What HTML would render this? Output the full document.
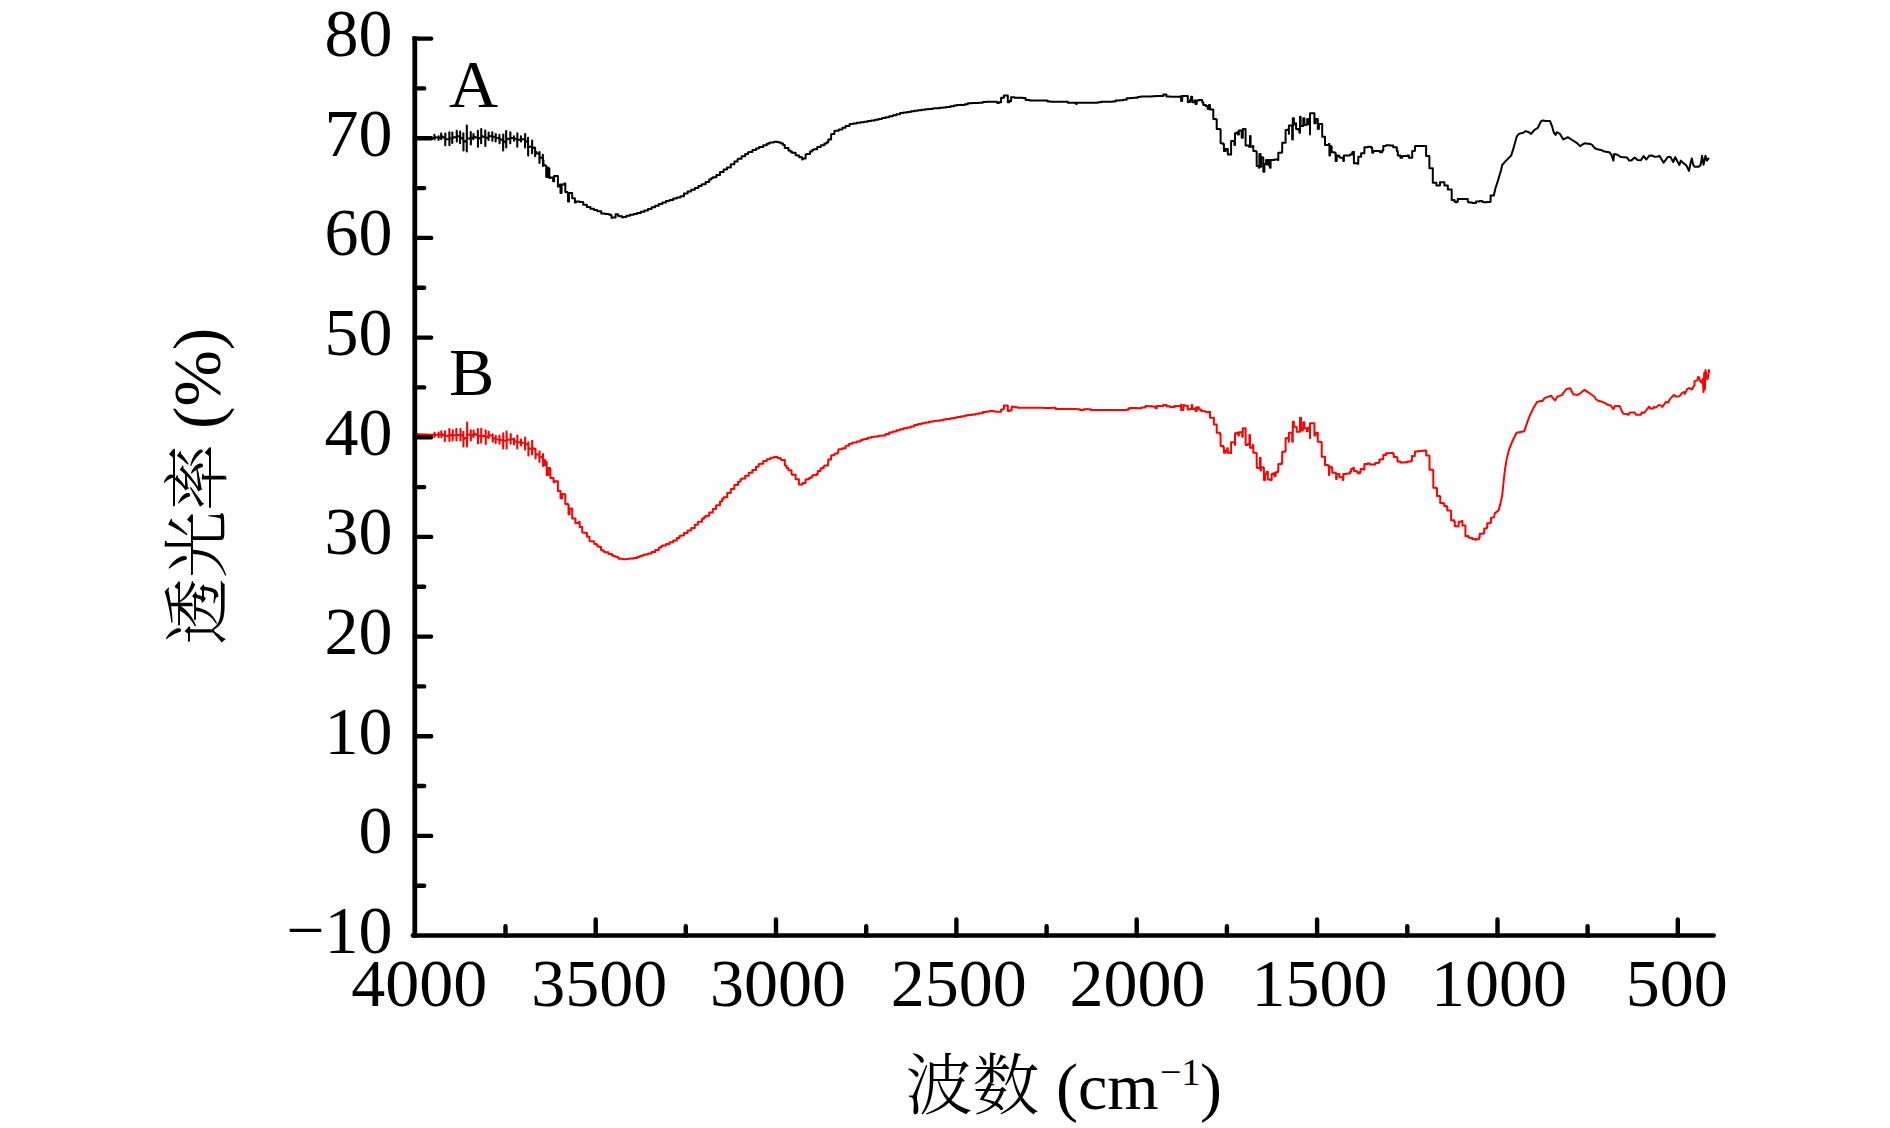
<!DOCTYPE html><html><head><meta charset="utf-8"><style>
html,body{margin:0;padding:0;background:#fff;}body{width:1890px;height:1128px;overflow:hidden;}
svg{display:block;}
.t{font-family:"Liberation Serif","Times New Roman",serif;font-size:68px;fill:#000;}
.c{font-family:"Liberation Serif","Noto Serif CJK SC",serif;font-size:68px;font-weight:300;fill:#000;}
</style></head><body>
<svg width="1890" height="1128" viewBox="0 0 1890 1128">
<rect width="1890" height="1128" fill="#fff"/>
<path d="M416.5 434.3H417.6V434.3H421.2V434.4H424.8V434.5H428.4V434.7H432.0V434.8H434.4V434.9H434.4V432.8H434.5V436.9H434.6V434.9H435.6V434.8H438.5V434.8H438.5V437.2H438.6V432.4H438.7V434.8H439.2V434.7H441.3V434.2H441.3V431.3H441.4V437.2H441.5V434.2H442.8V435.0H444.8V436.1H444.8V440.9H444.9V431.3H445.0V436.1H446.4V435.7H449.3V435.0H449.3V429.1H449.4V440.9H449.5V435.0H450.0V435.1H452.6V435.4H452.6V440.6H452.7V430.2H452.8V435.4H453.6V435.3H456.3V434.9H456.3V429.1H456.4V440.6H456.5V434.9H457.2V434.9H460.4V434.9H460.4V440.6H460.5V429.1H460.6V434.9H460.8V435.2H463.3V439.1H463.3V431.7H463.4V446.5H463.5V439.1H464.4V437.9H467.0V434.4H467.0V446.5H467.1V422.4H467.2V434.4H468.0V434.7H470.7V435.4H470.7V430.2H470.8V440.6H470.9V435.4H471.6V435.0H473.5V433.9H473.5V437.2H473.6V430.6H473.7V433.9H475.2V434.8H477.8V436.3H477.8V429.1H477.9V443.5H478.0V436.3H478.8V436.1H481.1V435.5H481.1V442.4H481.2V428.7H481.3V435.5H482.4V435.9H485.6V437.0H485.6V430.2H485.7V443.9H485.8V437.0H486.0V436.9H488.5V434.9H488.5V438.0H488.6V431.7H488.7V434.9H489.6V435.6H492.6V438.0H492.6V434.3H492.7V441.7H492.8V438.0H493.2V438.2H495.6V439.4H495.6V443.1H495.7V435.7H495.8V439.4H496.8V439.5H499.4V439.6H499.4V435.6H499.5V443.7H499.6V439.6H500.4V439.9H503.1V440.9H503.1V448.5H503.2V433.3H503.3V440.9H504.0V440.7H506.5V440.0H506.5V431.5H506.6V448.5H506.7V440.0H507.6V439.7H510.6V438.9H510.6V443.7H510.7V434.1H510.8V438.9H511.2V439.2H513.9V441.4H513.9V438.5H514.0V444.4H514.1V441.4H514.8V441.6H517.2V442.1H517.2V448.5H517.3V435.6H517.4V442.1H518.4V442.2H520.9V442.6H520.9V439.6H521.0V445.6H521.1V442.6H522.0V442.8H525.0V443.5H525.0V449.6H525.1V437.4H525.2V443.5H525.6V444.2H528.3V448.9H528.3V442.2H528.4V455.6H528.5V448.9H529.2V448.6H532.0V447.5H532.0V454.4H532.1V440.7H532.2V447.5H532.8V448.8H535.4V454.1H535.4V449.6H535.5V458.5H535.6V454.1H536.4V454.6H539.4V456.8H539.4V462.0H539.5V451.5H539.6V456.8H540.0V457.1H543.0V460.0H543.0V454.0H543.1V466.0H543.2V460.0H545.1V465.3H546.2V462.1H546.7V474.9H548.3V468.0H549.9V468.5H550.4V478.1H550.8V478.1H553.1V478.1H553.6V482.3H554.7V481.3H557.3V481.3H557.9V490.9H558.0V490.9H560.0V490.9H560.5V498.3H562.1V494.0H564.8V494.6H565.3V504.1H568.0V504.7H568.5V514.3H569.6V508.4H571.7V508.4H572.2V518.5H572.4V518.5H574.9V518.5H575.4V523.3H576.0V523.1H579.1V521.7H579.7V527.0H582.2V528.2H582.2V532.5H583.2V532.7H585.8V533.1H587.0V536.8H589.5V537.4H589.5V541.0H590.4V541.2H593.1V541.6H594.3V544.1H596.8V544.7H597.4V546.5H597.6V546.5H599.8V547.1H601.0V550.1H601.2V550.2H603.5V551.4H604.8V552.2H608.4V554.1H612.0V555.6H613.8V556.2H615.6V556.8H617.5V557.4H618.7V558.7H619.2V558.7H622.8V559.2H626.4V558.9H628.4V558.7H630.0V558.5H633.6V558.1H637.2V557.0H639.4V556.2H640.8V555.7H643.0V555.0H644.4V554.6H648.0V553.5H651.6V551.9H655.2V550.1H655.2V550.1H658.8V547.6H661.3V545.9H662.4V545.4H666.0V544.0H669.6V542.3H673.2V540.5H676.8V538.1H679.5V536.1H680.4V535.5H684.0V533.0H687.6V530.5H691.2V528.0H694.8V524.8H697.8V522.1H698.4V521.7H702.0V518.8H703.9V517.3H705.6V515.7H709.2V512.5H712.8V509.0H716.0V505.7H716.4V505.3H720.0V501.4H722.1V499.0H723.6V497.3H727.2V492.9H730.8V488.9H734.3V485.0H734.4V484.9H738.0V481.7H740.4V479.6H741.6V478.6H745.2V475.7H748.8V472.8H752.4V469.9H756.0V466.7H758.6V464.3H759.6V463.7H763.2V461.1H766.8V459.2H770.4V457.8H774.0V457.1H777.6V458.0H780.5V458.9H781.2V460.0H784.8V465.6H786.6V468.0H788.4V470.2H791.5V474.1H792.0V474.7H795.6V479.2H798.9V484.4H799.2V484.4H802.2V483.9H802.8V483.1H805.6V479.4H806.4V479.2H808.9V478.3H810.0V477.4H812.2V475.6H813.6V475.0H816.7V473.9H817.8V471.1H820.6V468.3H820.8V468.2H823.3V466.7H824.4V465.6H828.0V462.5H828.3V459.4H831.1V455.6H831.6V455.3H834.4V453.9H835.2V453.5H837.8V452.2H838.3V449.4H838.8V449.3H842.2V448.3H842.4V448.2H845.6V446.1H846.0V445.8H848.9V443.9H849.6V443.7H852.2V442.8H853.2V442.5H856.7V441.7H856.8V441.6H860.4V440.2H862.2V439.4H864.0V438.9H867.6V437.8H871.2V437.1H873.3V436.7H874.8V436.4H878.4V435.7H882.0V435.6H884.4V435.6H885.6V433.9H885.6V433.9H889.2V432.5H892.8V431.4H896.4V430.3H900.0V429.2H903.6V428.3H907.2V427.4H910.8V426.5H914.4V425.0H918.0V424.1H921.6V423.2H925.2V422.4H928.8V421.7H932.4V421.3H934.4V421.1H936.0V420.8H939.6V420.2H943.2V419.5H945.6V419.1H946.8V418.9H950.4V418.3H954.0V417.7H956.7V417.2H957.6V417.0H961.2V416.3H964.8V415.6H967.8V415.0H968.4V414.9H972.0V414.4H975.6V413.8H978.9V413.3H979.2V413.2H982.8V411.9H986.4V411.4H990.0V411.1H993.6V411.5H995.6V411.7H997.2V411.7H1000.6V411.7H1001.1V409.4H1003.3V408.9H1003.9V405.6H1004.4V405.6H1007.8V405.6H1007.8V411.1H1009.4V410.6H1011.1V410.0H1011.7V406.7H1014.4V407.2H1015.2V407.3H1017.8V407.8H1018.8V407.8H1022.4V407.8H1026.0V407.8H1029.6V407.8H1033.2V407.8H1036.8V407.8H1040.4V407.8H1043.3V407.8H1044.0V408.1H1047.6V407.9H1051.2V407.8H1054.4V407.8H1055.6V408.9H1058.4V408.9H1062.0V408.9H1065.6V408.9H1069.2V408.9H1072.8V408.9H1075.6V408.9H1076.4V409.3H1080.0V410.0H1082.2V410.0H1083.6V409.3H1086.7V408.9H1087.2V409.2H1090.8V410.0H1094.4V410.0H1098.0V410.0H1101.6V410.0H1105.2V410.0H1108.8V410.0H1112.4V410.0H1116.0V410.0H1119.6V410.0H1123.2V410.0H1125.6V410.0H1126.8V409.4H1128.9V408.3H1130.4V408.1H1133.3V407.8H1134.0V408.1H1137.6V408.2H1141.2V407.5H1144.4V407.2H1145.6V406.1H1148.4V406.3H1152.0V406.5H1154.4V406.7H1155.6V408.3H1156.7V406.1H1159.2V406.1H1162.2V406.1H1163.3V405.0H1166.4V406.2H1170.0V406.9H1173.3V407.2H1174.4V406.1H1177.2V406.1H1180.0V406.1H1181.1V404.4H1181.1V410.0H1183.3V405.0H1184.4V405.8H1187.8V409.4H1188.0V409.4H1190.0V408.9H1191.7V405.0H1192.2V408.9H1194.4V408.3H1195.6V411.1H1196.7V407.2H1198.8V409.4H1201.1V411.1H1202.4V411.3H1205.6V411.7H1206.0V412.1H1208.9V411.7H1210.0V417.8H1213.2V417.8H1213.9V424.4H1216.1V424.4H1216.7V432.8H1216.8V432.8H1220.0V434.4H1220.6V446.1H1223.3V447.2H1223.9V452.8H1225.6V450.6H1227.2V448.3H1227.8V452.8H1231.1V453.3H1231.1V442.2H1231.2V442.2H1233.9V442.2H1235.0V445.0H1235.0V433.3H1236.7V432.8H1238.3V435.6H1238.9V432.2H1241.7V431.7H1242.2V436.7H1242.8V428.3H1245.0V428.3H1245.6V445.0H1245.6V445.0H1247.8V443.9H1249.4V435.0H1250.0V447.8H1252.8V445.0H1253.3V452.8H1256.1V453.3H1256.7V467.8H1258.9V468.3H1260.0V457.8H1260.6V470.6H1261.1V467.2H1263.3V467.8H1263.9V480.0H1265.0V473.9H1266.7V471.7H1267.8V479.4H1270.6V480.0H1271.7V473.9H1273.3V473.3H1274.4V476.1H1275.6V472.2H1277.8V471.1H1278.3V463.9H1281.6V462.8H1282.2V451.7H1285.0V451.1H1285.6V438.3H1287.8V437.8H1288.9V441.7H1288.9V432.8H1291.1V432.8H1292.2V441.7H1292.8V421.7H1293.9V426.7H1296.0V427.2H1296.7V431.7H1299.4V431.7H1300.0V417.8H1301.1V430.6H1302.8V428.3H1303.3V422.2H1304.4V428.3H1306.8V431.2H1307.8V427.8H1309.4V427.2H1310.0V438.3H1310.0V423.3H1310.4V423.3H1313.9V423.3H1314.4V435.6H1315.6V432.8H1317.2V432.8H1317.8V441.7H1321.1V442.2H1321.7V456.7H1324.4V456.7H1325.0V465.0H1327.8V465.6H1328.9V475.0H1329.4V466.7H1331.7V468.3H1332.2V472.8H1335.6V473.3H1336.1V478.9H1336.7V473.9H1338.9V473.9H1339.4V477.2H1342.2V477.2H1342.8V480.0H1343.3V473.9H1346.4V473.5H1350.0V471.7H1351.1V468.9H1353.3V467.8H1353.9V471.1H1356.7V471.7H1357.8V473.3H1360.0V471.7H1360.6V468.9H1360.8V468.9H1363.3V469.4H1364.4V463.9H1367.8V463.3H1368.0V463.4H1370.0V464.4H1371.6V464.4H1375.2V463.0H1378.8V462.2H1379.4V459.4H1382.2V458.9H1383.3V455.0H1386.0V453.2H1389.6V453.0H1393.0V453.9H1393.8V456.9H1396.8V457.6H1397.5V461.4H1400.4V462.6H1404.0V462.3H1407.6V461.5H1411.1V460.7H1411.9V456.1H1414.8V455.4H1414.9V451.6H1418.4V451.1H1422.0V450.8H1425.4V450.6H1426.2V455.4H1429.2V456.1H1429.5V469.7H1432.8V470.4H1433.3V487.8H1436.4V488.5H1437.0V496.1H1439.8V496.4H1440.2V502.9H1442.8V503.6H1444.3V505.9H1446.5V506.6H1447.3V510.4H1450.8V511.1H1451.1V520.2H1454.1V521.7H1454.8V526.2H1458.0V526.2H1458.6V521.7H1461.6V521.0H1462.4V525.5H1465.2V525.5H1465.4V536.0H1468.4V537.5H1468.8V537.7H1472.2V539.1H1472.4V539.1H1475.2V539.8H1476.0V539.3H1478.9V537.5H1479.7V533.8H1483.2V533.1H1484.2V528.5H1486.5V527.7H1487.2V523.2H1490.3V522.5H1491.0V517.9L1494.0 517.2L1494.8 513.4L1498.5 510.4L1500.1 505.1L1502.3 494.6L1503.8 479.5L1505.3 467.4L1506.8 458.4L1509.1 449.4L1512.1 441.8L1516.6 432.8L1520.4 432.0L1524.2 431.3L1527.9 420.7L1530.2 414.7L1533.2 408.6L1537.0 401.9L1540.8 401.1L1542.3 401.1L1544.5 398.1L1548.3 396.6L1551.3 395.8L1552.8 398.1L1555.1 400.4L1557.3 396.6L1561.9 395.1L1563.4 392.8L1566.4 389.0L1570.2 388.3L1573.2 394.3L1576.9 395.1L1580.0 393.6L1584.5 389.8L1589.0 392.8L1595.0 397.3L1595.5 399.0L1598.9 401.1L1602.4 401.8L1605.1 403.1L1607.9 404.9L1610.6 405.2L1613.4 409.3L1614.8 405.9L1619.6 405.9L1622.3 412.1L1623.7 413.8L1627.1 414.1L1628.5 414.8L1629.9 412.4L1634.7 412.4L1636.1 414.8L1640.9 414.8L1641.6 412.4L1644.3 412.8L1646.4 410.0L1649.1 406.6L1650.5 408.6L1653.3 408.6L1654.0 406.9L1656.0 407.6L1658.8 404.9L1661.5 405.6L1662.2 406.9L1663.6 405.2L1665.7 402.1L1668.4 402.5L1669.1 400.4L1671.8 397.0L1673.9 394.9L1676.0 396.6L1679.4 396.3L1682.2 392.8L1684.2 392.1L1684.9 393.9L1687.0 389.4L1689.0 388.0L1691.8 389.4L1693.2 387.0L1694.5 385.3L1694.5 381.1L1697.3 380.4L1698.0 377.0L1699.4 377.7L1700.0 381.1L1701.4 382.5L1702.8 379.1L1703.5 392.1L1704.2 372.9L1704.9 389.4L1705.5 370.1L1706.9 378.4L1707.6 379.1L1709.0 370.1L1709.3 372.9" fill="none" stroke="#ff0000" stroke-width="2" stroke-linejoin="round"/>
<path d="M416.5 137.6H417.6V137.6H421.2V137.7H424.8V137.8H428.4V138.0H432.0V138.1H434.4V137.2H434.4V134.8H434.5V139.6H434.6V137.2H435.6V137.4H438.5V138.2H438.5V140.0H438.6V136.3H438.7V138.2H439.2V137.8H441.1V136.4H441.1V133.5H441.2V139.3H441.3V136.4H442.8V137.5H445.2V139.3H445.2V145.2H445.3V133.5H445.4V139.3H446.4V139.2H449.3V138.7H449.3V132.2H449.4V145.2H449.5V138.7H450.0V138.5H452.2V137.8H452.2V143.0H452.3V132.5H452.4V137.8H453.6V137.3H456.7V136.1H456.7V130.7H456.8V141.5H456.9V136.1H457.2V136.2H460.0V137.4H460.0V143.3H460.1V131.5H460.2V137.4H460.8V138.3H463.3V141.9H463.3V133.3H463.4V150.4H463.5V141.9H464.4V140.9H466.7V138.6H466.7V151.5H466.8V125.6H466.9V138.6H468.0V138.4H470.7V138.2H470.7V131.9H470.8V144.4H470.9V138.2H471.6V137.7H473.3V139.3H473.4V134.1H473.5V136.7H475.2V137.5H477.8V138.7H477.8V130.7H477.9V146.7H478.0V138.7H478.8V138.0H481.1V136.1H481.1V143.3H481.2V128.9H481.3V136.1H482.4V136.7H485.2V138.2H485.2V130.4H485.3V145.9H485.4V138.2H486.0V137.8H488.5V136.3H488.5V140.0H488.6V132.6H488.7V136.3H489.6V136.3H492.2V136.4H492.2V132.2H492.3V140.7H492.4V136.4H493.2V136.8H495.6V137.8H495.6V141.5H495.7V134.1H495.8V137.8H496.8V138.1H499.4V139.1H499.4V134.8H499.5V143.3H499.6V139.1H500.4V139.8H503.1V142.4H503.1V150.4H503.2V134.4H503.3V142.4H504.0V141.6H506.1V139.2H506.1V131.1H506.2V147.4H506.3V139.2H507.6V138.8H510.2V137.8H510.2V143.3H510.3V132.2H510.4V137.8H511.2V137.9H513.9V138.5H513.9V136.3H514.0V140.7H514.1V138.5H514.8V138.8H517.2V140.0H517.2V146.7H517.3V133.3H517.4V140.0H518.4V139.7H520.9V138.9H520.9V136.3H521.0V141.5H521.1V138.9H522.0V139.3H525.0V140.8H525.0V147.4H525.1V134.1H525.2V140.8H525.6V141.6H528.0V146.7H528.0V137.8H528.1V155.6H528.2V146.7H529.2V146.7H532.0V146.9H532.0V153.3H532.1V140.4H532.2V146.9H532.8V147.9H535.0V151.9H535.0V147.4H535.1V156.3H535.2V151.9H536.4V153.4H539.4V157.4H539.4V163.0H539.5V151.9H539.6V157.4H540.0V157.8H542.8V160.4H542.8V154.8H542.9V166.0H543.0V160.4H543.5V165.3H543.6V165.3H545.6V165.9H546.2V177.0H547.8V167.4H548.3V168.5H549.4V178.1H550.8V177.4H553.1V181.3H554.1V176.0H554.4V176.0H557.3V176.0H557.9V186.6H558.0V186.5H560.0V184.5H560.5V193.0H561.6V184.5H561.6V184.5H564.3V183.4H565.3V191.9H567.4V193.0H568.0V201.5H569.0V193.0H571.7V193.0H572.2V198.3H572.4V198.3H574.4V198.3H574.9V202.6H576.0V201.4H579.6V202.1H583.2V204.8H586.8V206.9H590.4V208.7H594.0V210.0H597.2V211.1H597.6V211.3H601.2V213.5H604.8V214.1H608.4V214.6H610.6V215.2H611.6V217.9H612.0V217.4H615.6V214.3H618.0V215.8H619.2V216.2H622.2V217.4H622.8V217.1H626.4V215.7H630.0V214.7H633.6V213.9H637.0V213.1H637.2V213.1H640.8V211.8H644.4V210.5H648.0V208.9H651.6V207.3H655.2V205.7H658.8V204.1H662.4V202.5H666.0V201.1H669.6V199.9H673.2V198.6H676.8V197.4H680.4V196.2H684.0V193.5H687.6V191.5H691.2V189.7H694.8V187.9H698.4V186.1H701.6V184.6H702.0V184.3H705.6V182.0H709.2V179.5H711.1V178.2H712.8V177.2H716.4V175.0H720.0V172.1H723.6V169.6H727.0V167.6H727.2V167.4H730.8V164.2H734.4V161.4H737.6V159.2H738.0V158.8H741.6V156.3H745.2V154.0H748.1V152.3H748.8V151.9H752.4V150.1H756.0V148.6H758.7V147.5H759.6V147.1H763.2V145.3H766.8V143.8H769.3V142.8H770.4V142.5H774.0V141.8H777.6V142.3H779.9V142.8H781.2V143.6H783.1V144.9H784.8V147.9H788.4V150.5H790.5V151.7H792.0V152.8H795.6V155.3H796.7V155.6H799.2V157.3H802.2V159.4H802.8V158.6H805.6V154.4H806.4V153.9H810.0V151.5H812.2V150.0H813.6V149.2H817.2V147.1H820.8V145.2H824.4V143.4H826.7V142.2H828.3V139.4H831.1V134.4H831.6V134.0H834.4V131.1H835.2V130.8H838.8V129.4H842.4V127.7H845.6V126.1H846.0V125.9H849.6V124.1H853.2V123.4H856.7V122.8H856.8V122.8H860.4V122.2H864.0V121.7H867.6V121.1H871.2V120.4H874.8V119.7H878.4V119.0H882.0V118.1H885.6V117.2H889.2V116.3H892.8V115.3H896.4V114.2H900.0V113.1H903.6V112.4H907.2V111.9H910.8V111.3H914.4V110.8H918.0V110.2H921.6V109.7H925.2V109.3H928.8V108.9H932.4V108.5H934.4V108.3H936.0V108.2H939.6V107.8H943.2V107.5H945.6V107.2H946.8V107.0H950.4V106.3H954.0V105.5H956.7V105.0H957.6V105.0H961.2V105.0H964.8V104.2H967.8V103.3H968.4V103.3H972.0V103.1H975.6V102.9H978.9V102.8H979.2V102.7H982.8V102.0H986.4V101.7H990.0V101.7H993.6V101.7H995.6V101.7H997.2V102.9H998.9V102.2H1000.6V102.2H1001.1V97.8H1003.3V97.8H1003.9V95.6H1004.4V95.6H1007.8V95.6H1007.8V102.2H1009.4V101.1H1011.1V97.2H1011.6V97.3H1014.4V97.8H1015.2V97.8H1018.8V97.8H1022.2V97.8H1022.4V97.9H1025.6V100.0H1026.0V100.1H1029.6V100.5H1033.2V100.6H1036.8V100.6H1040.4V100.6H1044.0V100.6H1047.6V101.6H1051.2V101.7H1054.8V101.7H1058.4V101.7H1062.0V101.7H1065.6V101.7H1065.6V101.7H1067.8V102.8H1069.2V102.8H1072.8V102.8H1075.6V102.8H1076.1V103.9H1076.7V102.8H1080.0V102.8H1083.6V102.8H1087.2V102.8H1090.8V102.8H1094.4V102.8H1098.0V102.3H1101.1V101.7H1101.6V101.7H1105.2V101.7H1108.8V101.7H1112.2V101.7H1112.4V101.6H1115.6V100.6H1116.0V100.5H1119.6V100.2H1123.2V99.8H1126.7V98.3H1126.8V98.3H1130.4V98.1H1134.0V97.8H1137.6V97.1H1140.0V96.7H1141.2V96.6H1144.8V96.5H1148.4V96.4H1152.0V96.3H1155.6V96.1H1159.2V96.1H1162.2V96.1H1163.3V94.4H1166.4V96.5H1170.0V96.7H1173.6V96.7H1177.2V96.7H1180.8V96.2H1181.1V101.1H1182.2V96.1H1184.4V96.1H1187.8V98.9H1187.8V102.2H1188.0V102.0H1190.0V100.0H1191.1V96.7H1192.2V102.2H1194.4V100.6H1195.6V103.9H1196.7V100.6H1198.8V100.0H1202.2V102.2H1203.3V105.0H1206.0V106.3H1207.8V108.9H1208.9V105.0H1210.0V109.4H1212.8V109.4H1213.3V118.9H1216.1V119.4H1216.7V128.9H1216.8V128.9H1220.0V129.4H1220.6V143.3H1222.8V143.9H1223.9V151.1H1225.6V148.9H1227.2V148.9H1227.8V154.4H1231.2V154.4H1231.1V141.1H1231.2V141.1H1233.3V141.1H1234.4V145.0H1235.0V133.3H1237.2V132.2H1237.8V134.4H1238.9V130.6H1241.1V131.1H1241.7V137.8H1242.8V128.9H1245.0V128.9H1245.6V145.6H1245.6V145.6H1247.8V145.6H1248.9V146.7H1250.0V136.1H1250.6V146.7H1252.8V146.1H1253.3V151.1H1256.1V151.7H1256.7V166.1H1258.9V167.8H1259.4V153.9H1260.6V166.7H1261.1V157.2H1262.8V157.8H1263.3V171.7H1264.4V163.9H1266.1V160.0H1266.7V164.4H1267.8V160.0H1268.9V165.6H1270.0V167.8H1270.6V160.0H1270.8V160.0H1274.4V159.5H1277.8V160.0H1278.3V152.8H1281.6V152.2H1282.2V142.8H1285.0V142.8H1285.6V130.0H1287.8V129.4H1288.9V133.9H1288.9V125.6H1291.7V125.6H1292.2V139.4H1292.8V118.3H1293.9V124.4H1295.6V123.3H1296.1V128.9H1297.8V128.9H1298.3V130.0H1299.4V132.8H1300.0V116.7H1300.6V126.1H1302.2V126.1H1303.3V118.3H1304.4V125.0H1306.1V124.4H1307.2V118.9H1308.3V118.9H1308.9V124.4H1310.0V134.4H1310.0V113.3H1310.4V113.3H1313.9V113.3H1314.4V123.3H1315.6V118.9H1317.2V118.9H1317.8V128.9H1318.9V123.9H1321.2V123.9H1322.2V136.7H1324.4V136.7H1325.0V145.0H1327.8V145.0H1328.9V143.9H1329.4V155.6H1330.0V146.1H1331.1V146.7H1331.7V152.2H1332.0V152.3H1334.4V152.8H1335.6V161.1H1336.7V155.6H1338.9V156.7H1340.0V157.8H1342.2V157.8H1343.3V161.1H1343.9V155.6H1346.4V155.6H1350.0V154.4H1352.2V152.2H1353.3V151.7H1353.9V163.3H1357.2V163.8H1358.3V156.7H1360.0V156.7H1361.1V153.3H1363.9V153.3H1364.4V147.2H1368.0V146.8H1371.1V147.8H1372.2V152.8H1373.3V151.1H1375.2V151.1H1378.8V151.1H1380.0V152.2H1382.2V150.6H1383.3V146.1H1386.0V145.2H1389.6V145.5H1393.2V147.2H1396.8V151.1H1397.8V155.6H1400.4V157.7H1402.2V156.1H1404.0V155.9H1407.6V155.6H1408.9V157.8H1411.2V157.8H1412.2V151.1H1414.8V150.6H1415.0V146.1H1418.4V146.1H1422.0V146.1H1425.6V146.1H1426.1V156.1H1429.2V156.6H1429.4V168.3H1432.2V168.3H1432.8V182.8H1432.8V182.8H1436.4V185.4H1440.0V182.2H1443.6V182.2H1444.4V185.6H1447.2V185.6H1447.8V189.4H1450.8V189.4H1451.7V200.0H1454.4V201.6H1455.6V202.2H1456.7V201.7H1457.8V198.9H1458.0V198.9H1461.6V198.9H1465.2V198.9H1467.8V201.7H1468.8V202.4H1472.4V202.9H1476.0V201.4H1479.6V201.0H1482.2V201.7H1483.2V202.2H1486.8V202.0H1490.4V201.7H1490.6V195.6H1493.9V195.0L1495.6 187.8L1497.8 181.1L1501.1 170.0L1502.2 165.0L1505.6 161.1L1511.1 155.6L1513.3 148.9L1516.7 136.7L1518.9 133.9L1523.3 132.8L1525.6 131.1L1528.9 132.2L1531.1 133.9L1534.4 130.0L1537.8 127.8L1541.1 121.1L1543.3 120.6L1545.6 121.1L1550.0 121.1L1552.2 126.7L1553.9 132.8L1555.6 135.0L1556.7 132.2L1560.0 133.9L1563.3 139.4L1566.7 137.8L1567.8 137.2L1572.2 140.0L1576.7 142.8L1580.0 146.1L1584.4 143.3L1590.0 143.9L1592.1 144.8L1594.8 148.2L1598.3 149.6L1601.0 149.9L1604.4 151.6L1609.3 152.3L1611.3 154.4L1613.4 160.6L1614.1 154.0L1617.5 154.7L1620.9 157.1L1627.1 157.5L1629.2 160.6L1631.3 160.6L1634.7 157.5L1637.5 159.9L1640.9 160.2L1643.6 156.1L1646.4 159.5L1649.1 155.8L1651.9 155.4L1654.6 156.8L1658.1 156.5L1659.5 155.8L1661.5 159.2L1663.6 162.6L1665.7 159.9L1667.7 157.1L1670.5 157.1L1673.2 162.0L1675.3 157.1L1677.3 161.3L1679.4 165.0L1680.8 160.6L1683.5 163.3L1686.3 165.4L1689.0 170.9L1690.4 164.0L1691.8 158.5L1693.2 164.7L1694.5 166.8L1698.7 166.8L1700.7 164.7L1702.1 155.8L1703.5 164.7L1705.5 155.8L1706.9 160.6L1709.0 157.8" fill="none" stroke="#000" stroke-width="2" stroke-linejoin="round"/>
<line x1="414.8" y1="36.4" x2="414.8" y2="937.75" stroke="#000" stroke-width="4.8"/>
<line x1="412.9" y1="935.5" x2="1713.7" y2="935.5" stroke="#000" stroke-width="4.5" stroke-linecap="round"/>
<path d="M414.8 38.6H431.2M414.8 138.3H431.2M414.8 237.9H431.2M414.8 337.6H431.2M414.8 437.2H431.2M414.8 536.9H431.2M414.8 636.6H431.2M414.8 736.2H431.2M414.8 835.9H431.2M414.8 88.4H424.2M414.8 188.1H424.2M414.8 287.8H424.2M414.8 387.4H424.2M414.8 487.1H424.2M414.8 586.7H424.2M414.8 686.4H424.2M414.8 786.0H424.2M414.8 885.7H424.2M595.7 935.5V919.4M776.0 935.5V919.4M956.4 935.5V919.4M1136.7 935.5V919.4M1317.1 935.5V919.4M1497.5 935.5V919.4M1677.8 935.5V919.4M505.5 935.5V926.2M685.8 935.5V926.2M866.2 935.5V926.2M1046.6 935.5V926.2M1226.9 935.5V926.2M1407.3 935.5V926.2M1587.6 935.5V926.2" stroke="#000" stroke-width="4.4" stroke-linecap="round" fill="none"/>
<rect x="412.55" y="36.4" width="4" height="4.4" fill="#000"/>
<text class="t" x="392.5" y="56.1" text-anchor="end">80</text>
<text class="t" x="392.5" y="155.8" text-anchor="end">70</text>
<text class="t" x="392.5" y="255.4" text-anchor="end">60</text>
<text class="t" x="392.5" y="355.1" text-anchor="end">50</text>
<text class="t" x="392.5" y="454.7" text-anchor="end">40</text>
<text class="t" x="392.5" y="554.4" text-anchor="end">30</text>
<text class="t" x="392.5" y="654.1" text-anchor="end">20</text>
<text class="t" x="392.5" y="753.7" text-anchor="end">10</text>
<text class="t" x="392.5" y="853.4" text-anchor="end">0</text>
<text class="t" x="392.5" y="953.0" text-anchor="end">−10</text>
<text class="t" x="419.3" y="1005.7" text-anchor="middle">4000</text>
<text class="t" x="599.2" y="1005.7" text-anchor="middle">3500</text>
<text class="t" x="778.0" y="1005.7" text-anchor="middle">3000</text>
<text class="t" x="958.8" y="1005.7" text-anchor="middle">2500</text>
<text class="t" x="1137.4" y="1005.7" text-anchor="middle">2000</text>
<text class="t" x="1319.6" y="1005.7" text-anchor="middle">1500</text>
<text class="t" x="1498.9" y="1005.7" text-anchor="middle">1000</text>
<text class="t" x="1676.8" y="1005.7" text-anchor="middle">500</text>
<text class="t" x="449" y="106.5">A</text>
<text class="t" x="449" y="395">B</text>
<g transform="translate(220.5 645) rotate(-90)">
<text class="c" x="0" y="0" style="font-size:67px">透光率</text>
<text class="t" x="216" y="-0.9" style="font-size:67.5px">(%)</text>
</g>
<text class="c" x="905.5" y="1108.5" style="font-size:67px">波数</text>
<text class="t" x="1056" y="1108.5" style="font-size:66px">(cm</text>
<text class="t" x="1160" y="1084.6" style="font-size:38px">−1</text>
<text class="t" x="1200" y="1108.5" style="font-size:66px">)</text>
</svg></body></html>
